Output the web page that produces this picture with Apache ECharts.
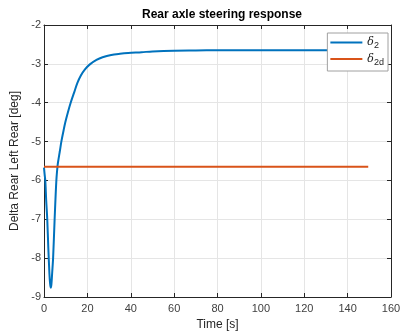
<!DOCTYPE html>
<html><head><meta charset="utf-8">
<script src="https://cdn.jsdelivr.net/npm/echarts@6/dist/echarts.min.js"></script>
<style>html,body{margin:0;padding:0;background:#fff}#c{width:404px;height:336px}</style>
</head><body><div id="c"></div>
<script>
const timeS = [0,0.3,0.6,1.0,1.5,2.0,2.5,2.8,3.1,3.4,3.8,4.2,4.9,5.7,6.3,6.7,7.3,8.0,9.0,9.8,11.0,12.3,14.0,15.4,17.0,18.8,21.0,24.2,27.0,31.0,35.0,38.8,45.0,50.0,60.0,70.0,80.0,100.0,120.0,140.0,149.5];
const delta2 = [-5.67,-5.85,-6.0,-6.5,-7.0,-7.75,-8.4,-8.65,-8.76,-8.68,-8.35,-8.0,-7.0,-6.0,-5.6,-5.45,-5.25,-5.0,-4.72,-4.51,-4.25,-4.0,-3.72,-3.49,-3.3,-3.15,-3.02,-2.9,-2.83,-2.77,-2.74,-2.72,-2.7,-2.68,-2.66,-2.655,-2.65,-2.65,-2.65,-2.65,-2.65];
const delta2dTime = [0,149.5];
const delta2dValue = [-5.65,-5.65];
const xTicks = {min:0,max:160,step:20};
const yTicks = {min:-9,max:-2,step:1};

const chart = echarts.init(document.getElementById('c'));
const axisCol = '#262626';
const font = 'Liberation Sans, Arial, sans-serif';
const lbl = {color:'#404040',fontSize:11,fontFamily:font};
function mkAxis(type, pos, t, show, extra){
  return Object.assign({type:'value',position:pos,min:t.min,max:t.max,interval:t.step,
    axisLine:{show:true,onZero:false,lineStyle:{color:axisCol,width:1}},
    axisTick:{show:true,inside:true,length:4,lineStyle:{color:axisCol}},
    axisLabel:Object.assign({show:show,margin:type==='y'?3:6},lbl),
    splitLine:{show:show,lineStyle:{color:'#e5e5e5',width:1}}},extra||{});
}
chart.setOption({
  animation:false,
  title:{text:'Rear axle steering response',left:217,textAlign:'center',top:4,
    textStyle:{fontSize:12,fontWeight:'bold',color:'#000',fontFamily:font}},
  grid:{left:44,right:13,top:25,bottom:37},
  legend:{right:16,top:33,orient:'vertical',backgroundColor:'#fff',borderColor:'#a0a0a0',borderWidth:1,
    padding:[4,4,4,3],itemGap:3,itemWidth:32,itemHeight:2,icon:'rect',
    data:['d2','d2d'],
    formatter:function(n){return n==='d2'?'{d|δ}{s|2}':'{d|δ}{s|2d}';},
    textStyle:{color:'#262626',rich:{d:{fontFamily:'DejaVu Serif, serif',fontStyle:'italic',fontSize:11},
      s:{fontFamily:font,fontSize:9,padding:[7,0,0,0]}}}},
  xAxis:[mkAxis('x','bottom',xTicks,true,{name:'Time [s]',nameLocation:'middle',nameGap:22,
      nameTextStyle:{fontSize:12,color:'#262626',fontFamily:font}}),
    mkAxis('x','top',xTicks,false)],
  yAxis:[mkAxis('y','left',yTicks,true,{name:'Delta Rear Left Rear [deg]',nameLocation:'middle',nameGap:17,
      nameTextStyle:{fontSize:12,color:'#262626',fontFamily:font}}),
    mkAxis('y','right',yTicks,false)],
  series:[
    {name:'d2',type:'line',smooth:0.3,showSymbol:false,data:timeS.map((t,i)=>[t,delta2[i]]),
      lineStyle:{color:'#0072BD',width:2},itemStyle:{color:'#0072BD'}},
    {name:'d2d',type:'line',showSymbol:false,data:delta2dTime.map((t,i)=>[t,delta2dValue[i]]),
      lineStyle:{color:'#D95319',width:2},itemStyle:{color:'#D95319'}}
  ]
});
</script></body></html>
